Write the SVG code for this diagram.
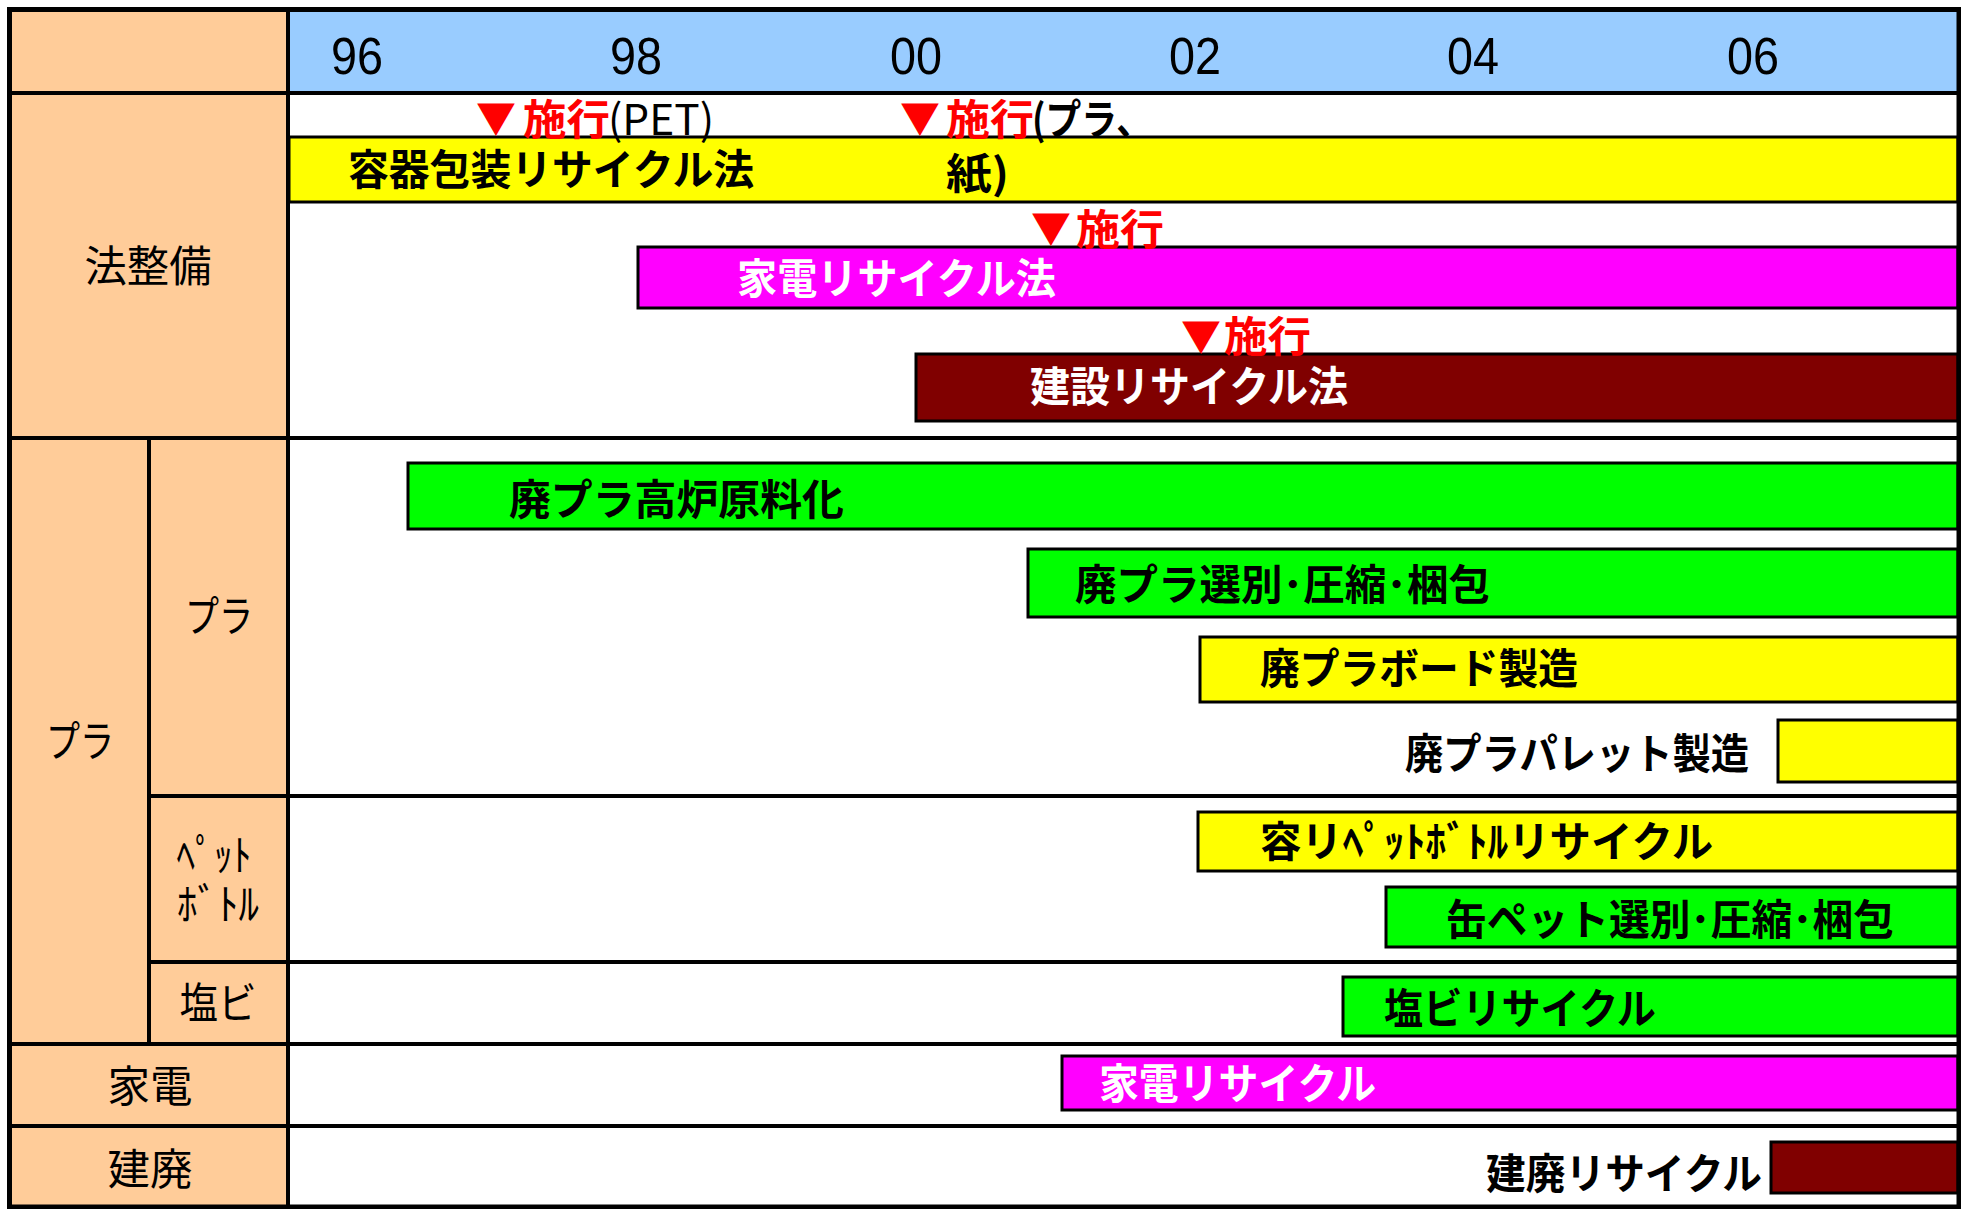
<svg xmlns="http://www.w3.org/2000/svg" width="1961" height="1209" viewBox="0 0 1961 1209">
<style>
.peach{fill:#FFCC99}
.blue{fill:#99CCFF}
.ln{stroke:#000;stroke-width:4;fill:none}
.bar{stroke:#000;stroke-width:3}
.y{fill:#FFFF00}.g{fill:#00FF00}.m{fill:#FF00FF}.r{fill:#800000}
.lbl{font-family:"Noto Sans CJK JP","Noto Sans CJK SC",sans-serif;font-weight:bold;font-size:42px;fill:#000}
.wh{fill:#FFFFFF}
.rh{font-family:"Noto Sans CJK JP","Noto Sans CJK SC",sans-serif;font-size:43px;text-anchor:middle;fill:#000}
.yr{font-family:"Liberation Sans",Arial,sans-serif;font-size:52px;text-anchor:middle;fill:#000}
.ann{font-family:"Noto Sans CJK JP","Noto Sans CJK SC",sans-serif;font-weight:bold;font-size:42px;fill:#FF0000}
.tri{font-family:"Noto Sans CJK JP","Noto Sans CJK SC",sans-serif;font-size:40px;fill:#FF0000}
.annk{font-family:"Noto Sans CJK JP","Noto Sans CJK SC",sans-serif;font-weight:bold;font-size:42px;fill:#000}
.annr{font-family:"Noto Sans CJK JP","Noto Sans CJK SC",sans-serif;font-size:42px;fill:#000}
</style>
<rect width="1961" height="1209" fill="#FFFFFF"/>
<g id="backgrounds">
<rect class="peach" x="9" y="9" width="279" height="1198"/>
<rect class="blue" x="288" y="9" width="1671" height="84"/>
</g>
<g id="header">
<text class="yr" x="357" y="74" textLength="52" lengthAdjust="spacingAndGlyphs">96</text>
<text class="yr" x="636" y="74" textLength="52" lengthAdjust="spacingAndGlyphs">98</text>
<text class="yr" x="916" y="74" textLength="52" lengthAdjust="spacingAndGlyphs">00</text>
<text class="yr" x="1195" y="74" textLength="52" lengthAdjust="spacingAndGlyphs">02</text>
<text class="yr" x="1473" y="74" textLength="52" lengthAdjust="spacingAndGlyphs">04</text>
<text class="yr" x="1753" y="74" textLength="52" lengthAdjust="spacingAndGlyphs">06</text>
</g>
<g id="row-headers">
<text class="rh" x="148" y="282" textLength="127" lengthAdjust="spacingAndGlyphs">法整備</text>
<text class="rh" x="219" y="632" textLength="68" lengthAdjust="spacingAndGlyphs">プラ</text>
<text class="rh" x="80" y="757" textLength="68" lengthAdjust="spacingAndGlyphs">プラ</text>
<text class="rh" x="214" y="871" textLength="75" lengthAdjust="spacingAndGlyphs">ﾍﾟｯﾄ</text>
<text class="rh" x="218" y="920" textLength="82" lengthAdjust="spacingAndGlyphs">ﾎﾞﾄﾙ</text>
<text class="rh" x="218" y="1019" textLength="77" lengthAdjust="spacingAndGlyphs">塩ビ</text>
<text class="rh" x="150" y="1102" textLength="85" lengthAdjust="spacingAndGlyphs">家電</text>
<text class="rh" x="150" y="1185" textLength="85" lengthAdjust="spacingAndGlyphs">建廃</text>
</g>
<g id="bar-youki">
<rect class="bar y" x="289" y="137" width="1669" height="65"/>
<text class="lbl" x="348" y="185" textLength="406" lengthAdjust="spacingAndGlyphs">容器包装リサイクル法</text>
</g>
<g id="bar-kaden-law">
<rect class="bar m" x="638" y="247" width="1320" height="61"/>
<text class="lbl wh" x="737" y="294" textLength="319" lengthAdjust="spacingAndGlyphs">家電リサイクル法</text>
</g>
<g id="bar-kensetsu-law">
<rect class="bar r" x="916" y="354" width="1042" height="67"/>
<text class="lbl wh" x="1030" y="402" textLength="318" lengthAdjust="spacingAndGlyphs">建設リサイクル法</text>
</g>
<g id="bar-koro">
<rect class="bar g" x="408" y="463" width="1550" height="66"/>
<text class="lbl" x="509" y="515" textLength="335" lengthAdjust="spacingAndGlyphs">廃プラ高炉原料化</text>
</g>
<g id="bar-senbetsu">
<rect class="bar g" x="1028" y="549" width="930" height="68"/>
<text class="lbl" x="1075" y="600" textLength="415" lengthAdjust="spacingAndGlyphs">廃プラ選別･圧縮･梱包</text>
</g>
<g id="bar-board">
<rect class="bar y" x="1200" y="637" width="758" height="65"/>
<text class="lbl" x="1260" y="684" textLength="318" lengthAdjust="spacingAndGlyphs">廃プラボード製造</text>
</g>
<g id="bar-pallet">
<rect class="bar y" x="1778" y="720" width="180" height="62"/>
<text class="lbl" x="1405" y="769" textLength="344" lengthAdjust="spacingAndGlyphs">廃プラパレット製造</text>
</g>
<g id="bar-pet">
<rect class="bar y" x="1198" y="812" width="760" height="59"/>
<text class="lbl" x="1260" y="857" textLength="453" lengthAdjust="spacingAndGlyphs">容リﾍﾟｯﾄﾎﾞﾄﾙリサイクル</text>
</g>
<g id="bar-can">
<rect class="bar g" x="1386" y="887" width="572" height="60"/>
<text class="lbl" x="1446" y="935" textLength="448" lengthAdjust="spacingAndGlyphs">缶ペット選別･圧縮･梱包</text>
</g>
<g id="bar-pvc">
<rect class="bar g" x="1343" y="977" width="615" height="59"/>
<text class="lbl" x="1384" y="1024" textLength="272" lengthAdjust="spacingAndGlyphs">塩ビリサイクル</text>
</g>
<g id="bar-kaden">
<rect class="bar m" x="1062" y="1056" width="896" height="54"/>
<text class="lbl wh" x="1099" y="1099" textLength="277" lengthAdjust="spacingAndGlyphs">家電リサイクル</text>
</g>
<g id="bar-kenhai">
<rect class="bar r" x="1771" y="1142" width="187" height="51"/>
<text class="lbl" x="1486" y="1189" textLength="276" lengthAdjust="spacingAndGlyphs">建廃リサイクル</text>
</g>
<g id="annotations">
<text class="tri" x="476" y="133">▼</text>
<text class="ann" x="523" y="135" textLength="87" lengthAdjust="spacingAndGlyphs">施行</text>
<text class="annr" x="608" y="135" textLength="106" lengthAdjust="spacingAndGlyphs">(PET)</text>
<text class="tri" x="900" y="133">▼</text>
<text class="ann" x="946" y="135" textLength="88" lengthAdjust="spacingAndGlyphs">施行</text>
<text class="annk" x="1032" y="135" textLength="120" lengthAdjust="spacingAndGlyphs">(プラ、</text>
<text class="annk" x="946" y="189" textLength="63" lengthAdjust="spacingAndGlyphs">紙)</text>
<text class="tri" x="1031" y="243">▼</text>
<text class="ann" x="1076" y="245" textLength="88" lengthAdjust="spacingAndGlyphs">施行</text>
<text class="tri" x="1181" y="351">▼</text>
<text class="ann" x="1224" y="352" textLength="87" lengthAdjust="spacingAndGlyphs">施行</text>
</g>
<g id="connectors"></g>
<g id="grid">
<line class="ln" x1="9" y1="93" x2="1959" y2="93"/>
<line class="ln" x1="9" y1="438" x2="1959" y2="438"/>
<line class="ln" x1="149" y1="796" x2="1959" y2="796"/>
<line class="ln" x1="149" y1="962" x2="1959" y2="962"/>
<line class="ln" x1="9" y1="1044" x2="1959" y2="1044"/>
<line class="ln" x1="9" y1="1126" x2="1959" y2="1126"/>
<line class="ln" x1="288" y1="9" x2="288" y2="1207"/>
<line class="ln" x1="149" y1="438" x2="149" y2="1044"/>
<rect x="9.5" y="9.5" width="1949.5" height="1197.5" fill="none" stroke="#000" stroke-width="5"/>
</g>
</svg>
